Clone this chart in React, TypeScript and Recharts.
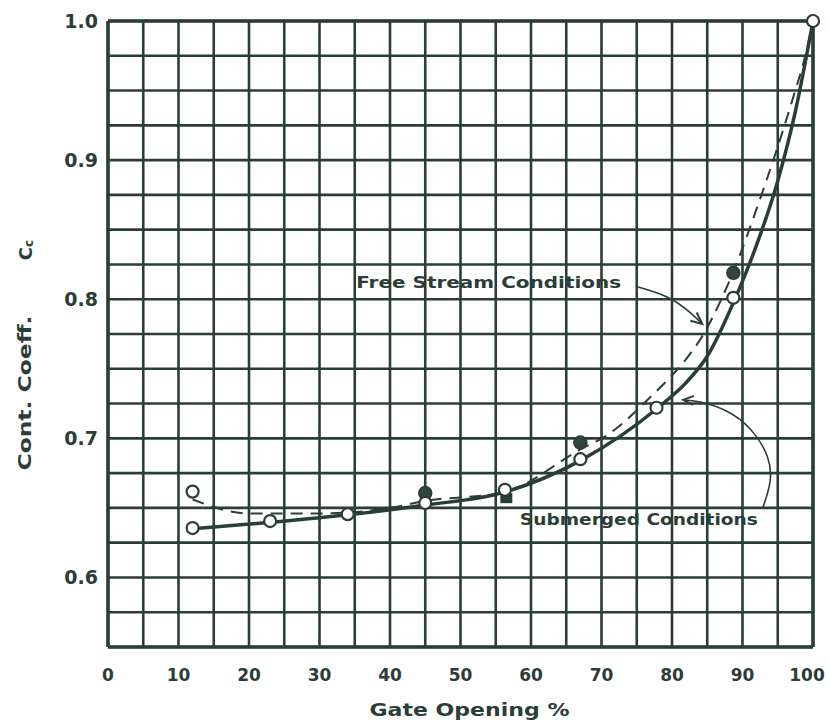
import React from 'react';
import {
  ComposedChart,
  Line,
  Scatter,
  XAxis,
  YAxis,
  CartesianGrid,
  ReferenceLine,
} from 'recharts';

// ---------- data ----------
const xTicks = [0, 5, 10, 15, 20, 25, 30, 35, 40, 45, 50, 55, 60, 65, 70, 75, 80, 85, 90, 95, 100];
const xTickLabels = ['0', '10', '20', '30', '40', '50', '60', '70', '80', '90', '100'];
const yTicks = [0.55, 0.575, 0.6, 0.625, 0.65, 0.675, 0.7, 0.725, 0.75, 0.775, 0.8, 0.825, 0.85, 0.875, 0.9, 0.925, 0.95, 0.975, 1.0];
const yTickLabels = ['0.6', '0.7', '0.8', '0.9', '1.0'];

// Submerged conditions: solid curve and open-circle observations
const submergedCurveX = [12, 24, 34, 45, 56, 67, 78, 82, 85, 89, 92, 95, 97.5, 100];
const submergedCurveY = [0.635, 0.64, 0.645, 0.652, 0.661, 0.684, 0.722, 0.74, 0.759, 0.801, 0.839, 0.885, 0.935, 1.0];
const submergedPointsX = [12, 23, 34, 45, 56.3, 67, 77.8, 88.7, 100, 12];
const submergedPointsY = [0.6355, 0.6405, 0.6455, 0.6535, 0.663, 0.685, 0.722, 0.801, 1.0, 0.6617];

// Free stream conditions: dashed curve and filled observations
const freeCurveX = [12, 20, 30, 40, 45, 56, 67, 71, 77, 82, 84, 87, 89.5, 92, 94.5, 97, 99, 100];
const freeCurveY = [0.656, 0.646, 0.646, 0.65, 0.655, 0.661, 0.692, 0.703, 0.73, 0.757, 0.771, 0.8, 0.83, 0.865, 0.902, 0.942, 0.977, 1.0];
const freeCircleX = [45, 67, 88.7];
const freeCircleY = [0.6607, 0.697, 0.819];
const freeSquareX = [56.5];
const freeSquareY = [0.657];

// Annotation leader curves (data coordinates)
const freeArrowX = [75.2, 79.3, 82.5, 84.3];
const freeArrowY = [0.8088, 0.8016, 0.7908, 0.7822];
const freeHeadX = [82.6, 84.3, 83.5];
const freeHeadY = [0.7845, 0.7822, 0.7905];
const subArrowX = [92.9, 93.9, 93.5, 91.1, 87.7, 84.0, 81.6];
const subArrowY = [0.6503, 0.6685, 0.6873, 0.7067, 0.7197, 0.7261, 0.7276];
const subHeadX = [83.1, 81.6, 83.0];
const subHeadY = [0.7305, 0.7276, 0.724];

const annotationTexts = ['Free Stream Conditions', 'Submerged Conditions'];
const annotationX = [54.0, 75.3];
const annotationY = [0.8117, 0.6413];

// ---------- helpers ----------
const zip = (xs: number[], ys: number[]) => xs.map((x, i) => ({ x, y: ys[i] }));

const ink = '#2b3d37';
const fontFamily = '"DejaVu Sans", sans-serif';

const submergedCurve = zip(submergedCurveX, submergedCurveY);
const submergedPoints = zip(submergedPointsX, submergedPointsY);
const freeCurve = zip(freeCurveX, freeCurveY);
const freeCircles = zip(freeCircleX, freeCircleY);
const freeSquares = zip(freeSquareX, freeSquareY);
const freeArrow = zip(freeArrowX, freeArrowY);
const freeHead = zip(freeHeadX, freeHeadY);
const subArrow = zip(subArrowX, subArrowY);
const subHead = zip(subHeadX, subHeadY);
const annotations = annotationTexts.map((label, i) => ({ x: annotationX[i], y: annotationY[i], label }));
const annotationWidths = [265, 238];

const yFmt = (v: number) => {
  const s = (Math.round(v * 1000) / 1000).toFixed(1);
  return Math.abs(Number(s) - v) < 1e-6 && yTickLabels.includes(s) ? s : '';
};

const XTick = (p: any) => {
  const v = p.payload ? p.payload.value : 0;
  const s = String(v);
  if (!xTickLabels.includes(s)) return <g />;
  const dx = v === 100 ? -6 : 0;
  return (
    <text
      x={p.x + dx}
      y={p.y + 26}
      textAnchor="middle"
      fontFamily={fontFamily}
      fontSize={17}
      fontWeight={700}
      fill={ink}
    >
      {s}
    </text>
  );
};

const OpenCircle = (p: any) => (
  <circle cx={p.cx} cy={p.cy} r={6} fill="#ffffff" stroke={ink} strokeWidth={2.2} />
);
const FilledCircle = (p: any) => (
  <circle cx={p.cx} cy={p.cy} r={6.5} fill="#33443e" stroke={ink} strokeWidth={1.5} />
);
const FilledSquare = (p: any) => (
  <rect x={p.cx - 6} y={p.cy - 5} width={12} height={10} fill={ink} />
);
const AnnotationText = (p: any) => {
  const i = annotationTexts.indexOf(p.payload.label);
  return (
    <text
      x={p.cx}
      y={p.cy}
      textAnchor="middle"
      dominantBaseline="central"
      fontFamily={fontFamily}
      fontSize={16}
      fontWeight={600}
      fill={ink}
      textLength={annotationWidths[i]}
      lengthAdjust="spacingAndGlyphs"
    >
      {p.payload.label}
    </text>
  );
};

const YLabel = (props: any) => {
  const vb = props.viewBox || { x: 0, y: 21, width: 108, height: 626 };
  const cx = vb.x + 25;
  const cy = vb.y + vb.height / 2;
  return (
    <g fontFamily={fontFamily} fontWeight={700} fill={ink}>
      <text
        x={cx}
        y={cy + 59}
        transform={`rotate(-90 ${cx} ${cy + 59})`}
        textAnchor="middle"
        dominantBaseline="central"
        fontSize={17}
        textLength={155}
        lengthAdjust="spacingAndGlyphs"
      >
        Cont. Coeff.
      </text>
      <text
        x={cx}
        y={cy - 84}
        transform={`rotate(-90 ${cx} ${cy - 84})`}
        textAnchor="middle"
        dominantBaseline="central"
        fontSize={18}
      >
        C<tspan fontSize={12} dy={4}>c</tspan>
      </text>
    </g>
  );
};

const XLabel = (props: any) => {
  const vb = props.viewBox || { x: 108, y: 647, width: 705, height: 77 };
  const cx = vb.x + vb.width / 2 + 9;
  return (
    <text
      x={cx}
      y={710}
      textAnchor="middle"
      dominantBaseline="central"
      fontFamily={fontFamily}
      fontWeight={700}
      fontSize={17}
      fill={ink}
      textLength={200}
      lengthAdjust="spacingAndGlyphs"
    >
      Gate Opening %
    </text>
  );
};

export default function App() {
  return (
    <div style={{ position: 'absolute', left: 0, top: 0, width: 829, height: 724, background: '#ffffff' }}>
      <ComposedChart width={829} height={724} margin={{ top: 21, right: 16, bottom: 0, left: 0 }}>
        <CartesianGrid stroke={ink} strokeWidth={2.6} fill="#ffffff" />
        <XAxis
          dataKey="x"
          type="number"
          domain={[0, 100]}
          ticks={xTicks}
          interval={0}
          height={77}
          axisLine={{ stroke: ink, strokeWidth: 3.5 }}
          tickLine={false}
          tick={XTick}
          label={{ content: XLabel }}
        />
        <YAxis
          dataKey="y"
          type="number"
          domain={[0.55, 1.0]}
          ticks={yTicks}
          tickFormatter={yFmt}
          interval={0}
          width={108}
          axisLine={{ stroke: ink, strokeWidth: 3.5 }}
          tickLine={false}
          tickMargin={4}
          tick={{ fill: ink, fontSize: 19, fontWeight: 700, fontFamily }}
          label={{ content: YLabel }}
        />
        <ReferenceLine y={1.0} stroke={ink} strokeWidth={3.5} />
        <ReferenceLine x={100} stroke={ink} strokeWidth={3.5} />

        <Line data={freeArrow} dataKey="y" type="natural" stroke={ink} strokeWidth={1.6} dot={false} activeDot={false} isAnimationActive={false} legendType="none" />
        <Line data={freeHead} dataKey="y" type="linear" stroke={ink} strokeWidth={2} dot={false} activeDot={false} isAnimationActive={false} legendType="none" />
        <Line data={subArrow} dataKey="y" type="natural" stroke={ink} strokeWidth={1.6} dot={false} activeDot={false} isAnimationActive={false} legendType="none" />
        <Line data={subHead} dataKey="y" type="linear" stroke={ink} strokeWidth={2} dot={false} activeDot={false} isAnimationActive={false} legendType="none" />

        <Line data={submergedCurve} dataKey="y" type="monotone" stroke={ink} strokeWidth={3.5} dot={false} activeDot={false} isAnimationActive={false} legendType="none" />
        <Line data={freeCurve} dataKey="y" type="monotone" stroke={ink} strokeWidth={2} strokeDasharray="12 8" dot={false} activeDot={false} isAnimationActive={false} legendType="none" />

        <Scatter data={freeCircles} dataKey="y" shape={FilledCircle} isAnimationActive={false} legendType="none" />
        <Scatter data={freeSquares} dataKey="y" shape={FilledSquare} isAnimationActive={false} legendType="none" />
        <Scatter data={submergedPoints} dataKey="y" shape={OpenCircle} isAnimationActive={false} legendType="none" />
        <Scatter data={annotations} dataKey="y" shape={AnnotationText} isAnimationActive={false} legendType="none" />
      </ComposedChart>
    </div>
  );
}
